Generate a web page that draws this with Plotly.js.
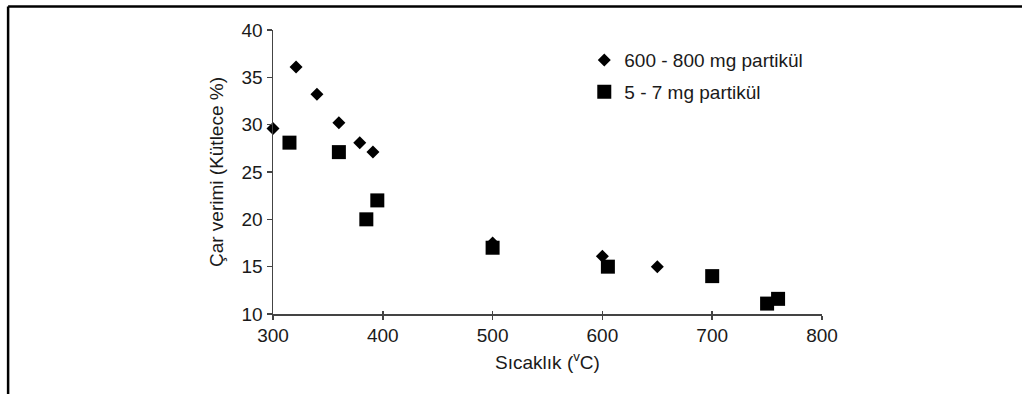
<!DOCTYPE html>
<html>
<head>
<meta charset="utf-8">
<script src="https://cdn.plot.ly/plotly-3.0.1.min.js"></script>
<style>html,body{margin:0;padding:0;background:#fff;}#chart{width:1022px;height:394px;}</style>
</head>
<body>
<div id="chart"></div>
<script>
// Series 1: 600 - 800 mg partikül (diamonds)
var bigX = [300, 321, 340, 360, 379, 391, 500, 600, 650];
var bigY = [29.6, 36.1, 33.2, 30.2, 28.1, 27.1, 17.5, 16.1, 15.0];
// Series 2: 5 - 7 mg partikül (squares)
var smallX = [315, 360, 385, 395, 500, 605, 700, 750, 760];
var smallY = [28.1, 27.1, 20.0, 22.0, 17.0, 15.0, 14.0, 11.1, 11.6];

var seriesNames = ["600 - 800 mg partikül", "5 - 7 mg partikül"];
var xTitle = "Sıcaklık (<sup>v</sup>C)";
var yTitle = "Çar verimi (Kütlece %)";
var xTicks = [300, 400, 500, 600, 700, 800];
var yTicks = [10, 15, 20, 25, 30, 35, 40];

var fontFam = '"Liberation Sans", Arial, sans-serif';
var fs = 19;

var traces = [
  {x: bigX, y: bigY, name: seriesNames[0], type: 'scatter', mode: 'markers', legendgroup: 'a', cliponaxis: false,
   marker: {symbol: 'diamond', size: 10, color: '#000'}},
  {x: smallX, y: smallY, name: seriesNames[1], type: 'scatter', mode: 'markers', legendgroup: 'b', cliponaxis: false,
   marker: {symbol: 'square', size: 14, color: '#000'}},
  {x: [null], y: [null], xaxis: 'x2', showlegend: false, hoverinfo: 'skip', type: 'scatter', mode: 'markers'}
];

var layout = {
  width: 1022, height: 394,
  margin: {l: 273, r: 200, t: 30, b: 80, pad: 0},
  paper_bgcolor: '#fff', plot_bgcolor: '#fff',
  font: {family: fontFam, size: fs, color: '#1a1a1a'},
  showlegend: true,
  legend: {x: 0.567, y: 0.961, xanchor: 'left', yanchor: 'top', bgcolor: 'rgba(0,0,0,0)',
           font: {family: fontFam, size: fs, color: '#1a1a1a'}, tracegroupgap: 4, traceorder: 'grouped'},
  xaxis: {range: [300, 800], tickvals: xTicks, ticktext: xTicks.map(String),
          showgrid: false, zeroline: false, showline: true, linecolor: '#444', linewidth: 1.5,
          ticks: 'outside', ticklen: 4, tickwidth: 1.5, tickcolor: '#444',
          tickfont: {family: fontFam, size: fs, color: '#1a1a1a'},
          title: {text: xTitle, standoff: 10, font: {family: fontFam, size: fs, color: '#1a1a1a'}}},
  xaxis2: {overlaying: 'x', matches: 'x', anchor: 'y', range: [300, 800], tickvals: xTicks,
           showticklabels: false, showgrid: false, zeroline: false, showline: false,
           ticks: 'inside', ticklen: 3, tickwidth: 1.5, tickcolor: '#444'},
  yaxis: {range: [10, 40], tickvals: yTicks, ticktext: yTicks.map(String),
          showgrid: false, zeroline: false, showline: true, linecolor: '#444', linewidth: 1.5,
          ticks: 'outside', ticklen: 5, tickwidth: 1.5, tickcolor: '#444',
          tickfont: {family: fontFam, size: fs, color: '#1a1a1a'},
          title: {text: yTitle, standoff: 13, font: {family: fontFam, size: fs, color: '#1a1a1a'}}},
  shapes: [
    {type: 'line', xref: 'paper', yref: 'paper', x0: -0.4825, x1: 1.37, y0: 1.0827, y1: 1.0827,
     line: {color: '#000', width: 2.5}},
    {type: 'line', xref: 'paper', yref: 'paper', x0: -0.4825, x1: -0.4825, y0: 1.0827, y1: -0.3,
     line: {color: '#000', width: 2.5}}
  ]
};

Plotly.newPlot('chart', traces, layout, {displayModeBar: false, staticPlot: true});
</script>
</body>
</html>
